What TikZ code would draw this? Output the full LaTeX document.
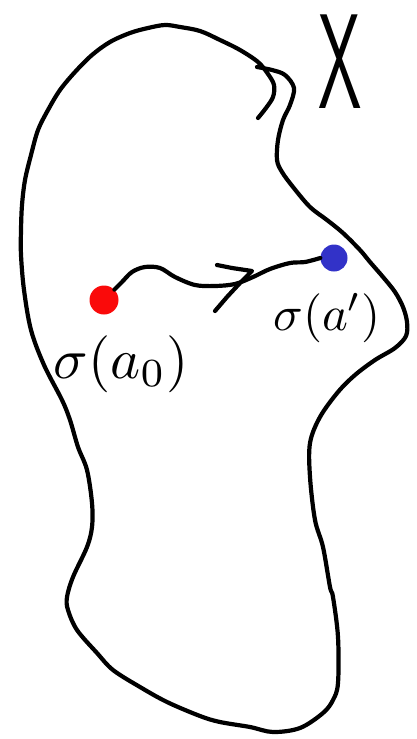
\documentclass[tikz,border=0pt]{standalone}
\usepackage{graphicx}
\definecolor{dotred}{RGB}{250,10,10}
\definecolor{dotblue}{RGB}{50,50,200}
\begin{document}
\begin{tikzpicture}[x=1pt,y=-1pt,
  stroke/.style={line width=4.2pt,line cap=round,line join=round},
  dotnode/.style={circle,inner sep=0pt,minimum size=29pt},
  lbl/.style={inner sep=0pt}]
\useasboundingbox (0,0) rectangle (417,739);
% region outline
\draw[stroke] plot[smooth,tension=0.55] coordinates {
 (258,118) (266,108) (273,97) (274,85) (268,74) (258,62) (240,50) (220,40)
 (200,31) (180,27) (165,25) (148,28) (130,33) (110,42) (92,55) (75,72)
 (60,90) (48,110) (38,130) (31,155) (25,180) (22,205) (21,230) (21,255)
 (24,290) (31,330) (44,365) (62,400) (70,420) (78,447) (87,470) (92,503)
 (92,527) (87,547) (73,577) (67,597) (68,610) (77,630) (97,653) (113,670)
 (140,687) (167,702) (200,716) (220,722) (250,727) (273,732) (300,728)
 (323,713) (333,700) (338,683) (338,637) (333,597) (330,587) (323,547)
 (315,520) (310,477) (310,443) (320,417) (338,392) (355,375) (375,360)
 (395,348) (406,336) (407,322) (403,307) (395,292) (383,277) (370,262)
 (360,250) (343,233) (327,220) (310,207) (293,187) (282,172) (277,160)
 (278,140) (283,120) (290,105) (294,88) (285,75) (272,70) (257,67)};
% points
\node[dotnode,fill=dotred] (a0) at (104,300) {};
\node[dotnode,fill=dotblue,minimum size=27pt] (a1) at (334,258) {};
% path between them
\draw[stroke] plot[smooth,tension=0.55] coordinates {
 (a0.north east) (122,282) (132,272) (145,267) (160,268) (175,277) (195,285)
 (215,286) (235,284) (253,277) (270,269) (290,263) (305,262) (a1.west)};
\draw[stroke] (217,265) -- (232,268) -- (252,271) -- (240,283) -- (227,297) -- (215,311);
% labels
\node[lbl,anchor=base] (l0) at (121,378) {\scalebox{5.7}{$\sigma(a_0)$}};
\node[lbl,anchor=base] (l1) at (327,330) {\scalebox{4.9}{$\sigma(a')$}};
\node[lbl] (X) at (340,62) {\scalebox{6.5}[13.5]{\sffamily X}};
\end{tikzpicture}
\end{document}
